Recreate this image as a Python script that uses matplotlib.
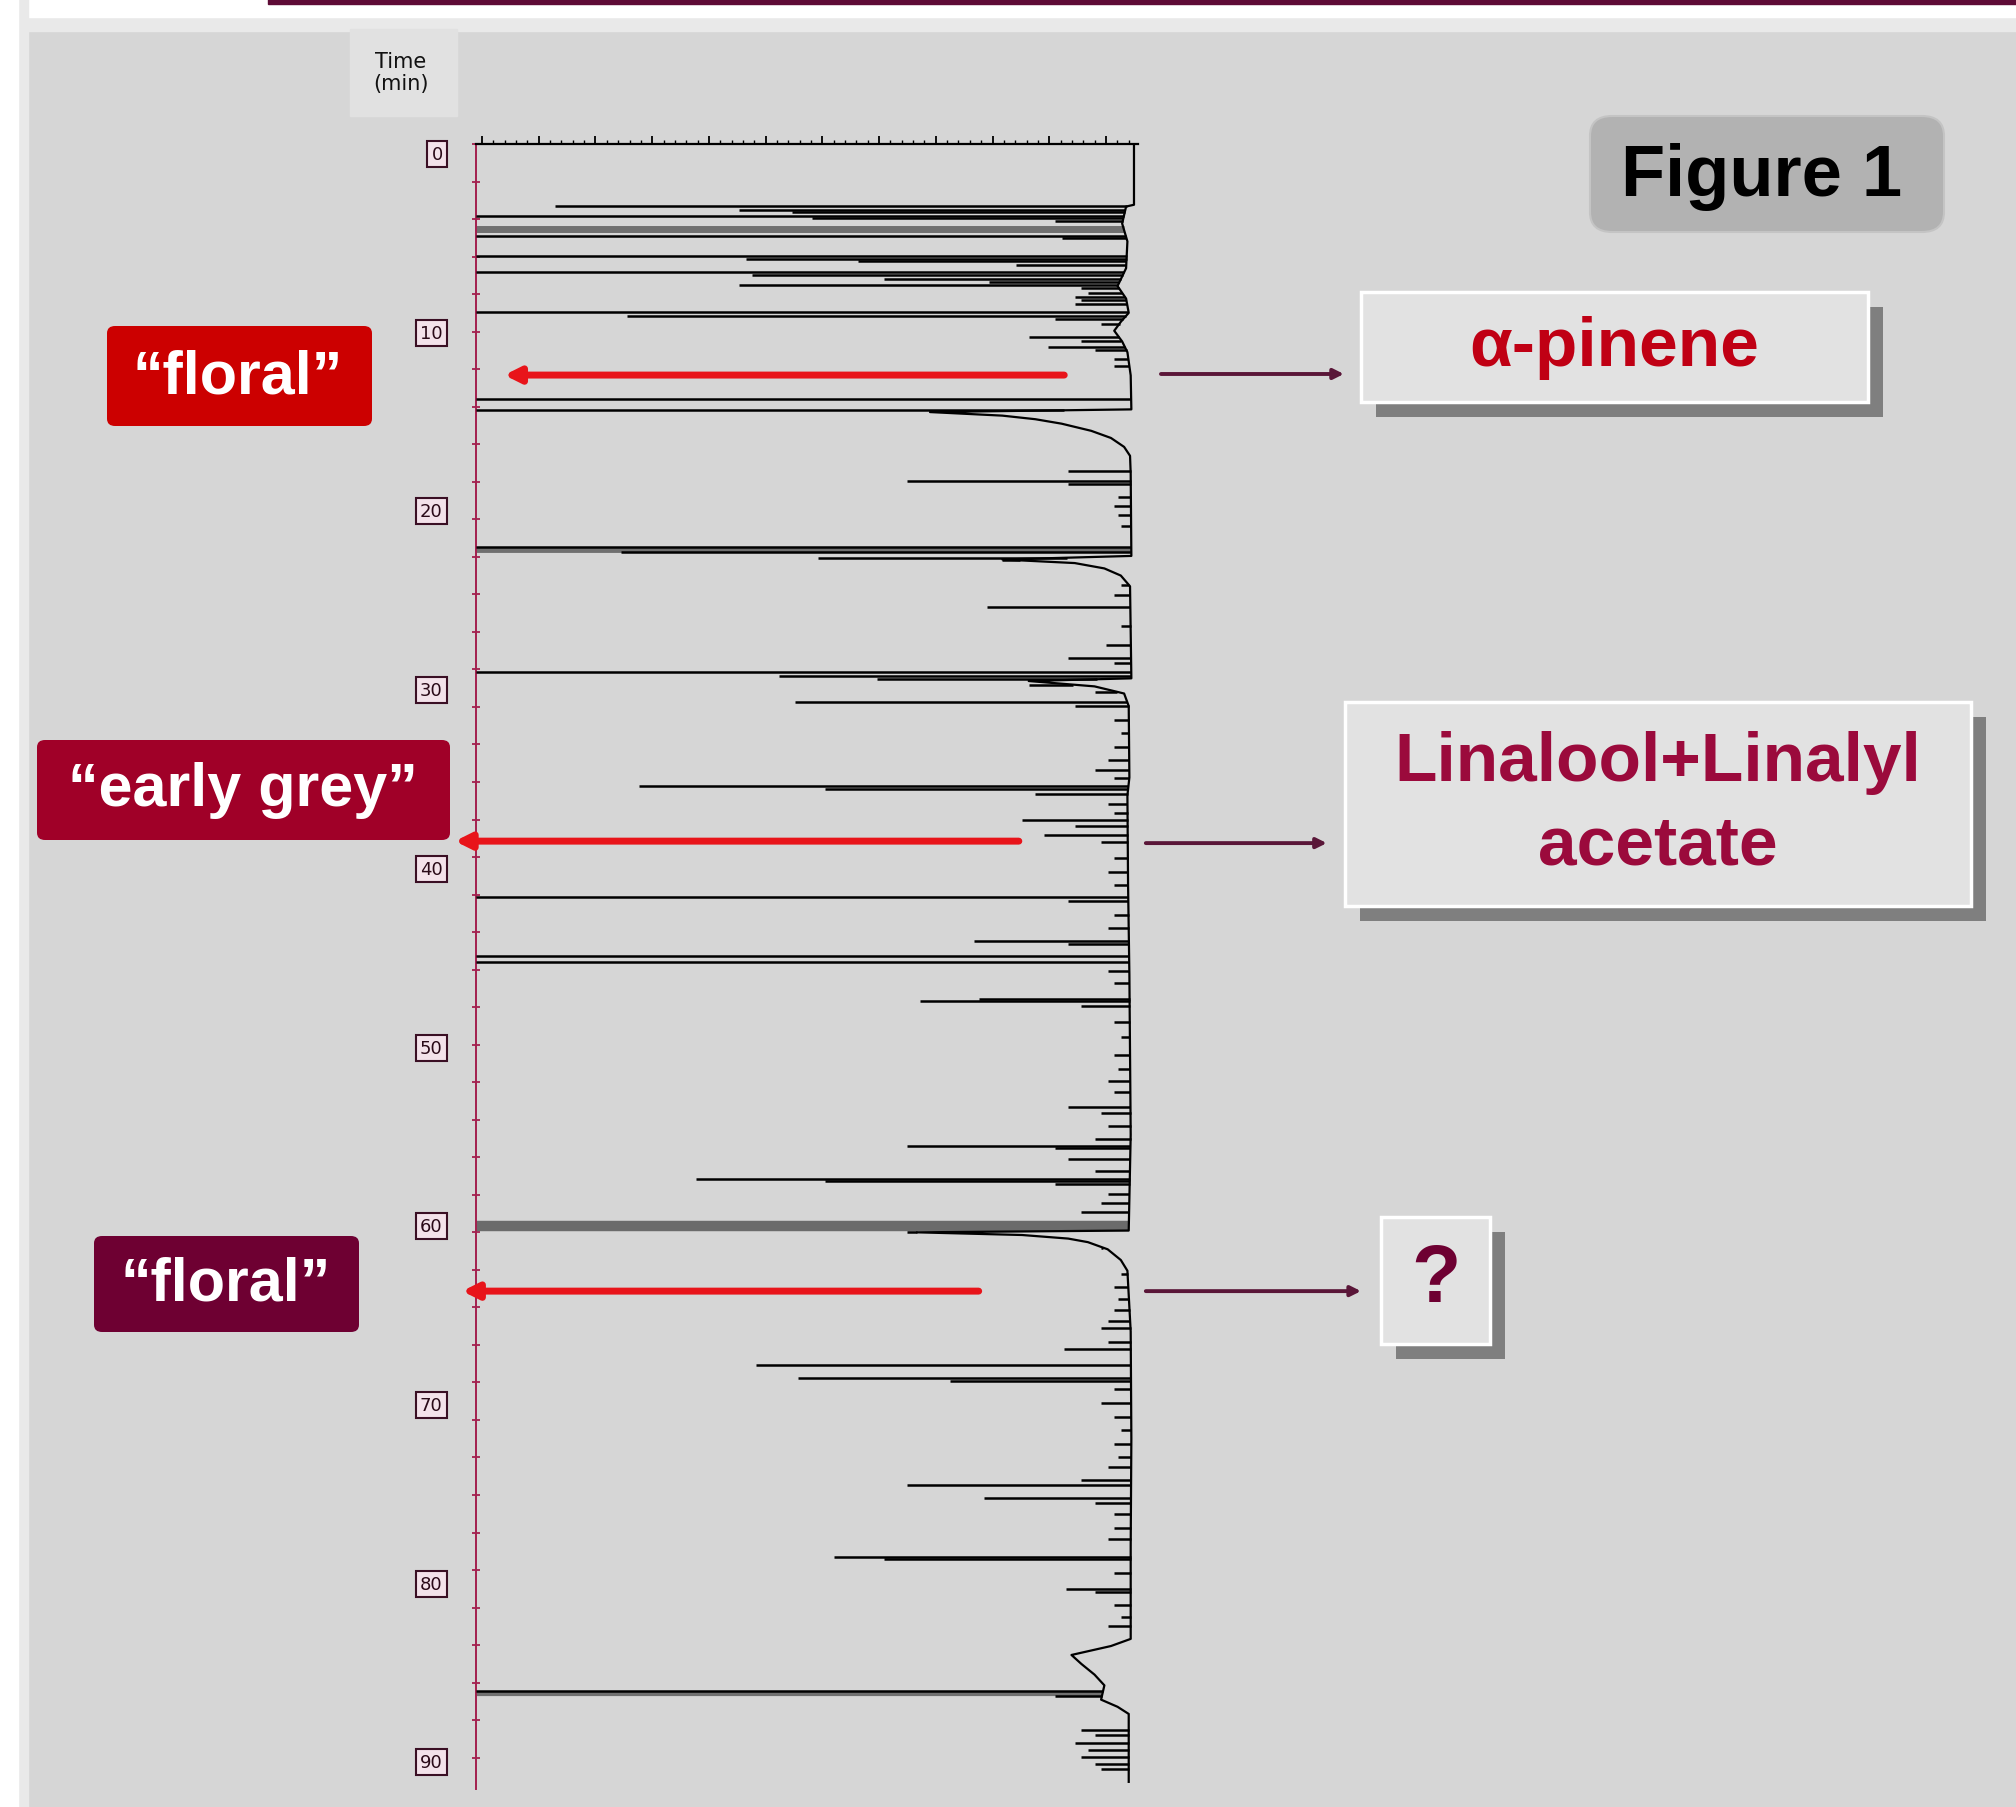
import numpy as np
import matplotlib.pyplot as plt
from matplotlib.patches import Rectangle, FancyBboxPatch

# chromatogram: retention time (min) and peak height (% of full scale)
peak_time = [3.04, 3.25, 3.35, 3.56, 3.71, 3.85, 4.68, 4.80, 5.80, 5.99, 6.10, 6.30,
             6.73, 6.90, 7.10, 7.30, 7.42, 7.60, 7.90, 8.10, 8.30, 8.50, 8.93, 9.15,
             9.35, 9.60, 10.37, 10.55, 10.93, 11.10, 11.60, 12.00, 13.82, 14.45,
             17.83, 18.39, 18.60, 19.30, 19.80, 20.30, 20.90, 22.12, 22.40, 22.70, 22.85,
             24.20, 24.80, 25.48, 26.50, 27.60, 28.30, 28.60, 29.10, 29.30, 29.50, 29.80,
             30.20, 30.80, 31.00, 31.80, 32.50, 33.30, 34.00, 34.60, 35.00, 35.50, 35.65,
             35.90, 36.50, 37.00, 37.40, 37.70, 38.20, 38.60, 39.50, 40.30, 41.00, 41.70,
             41.90, 42.70, 43.40, 44.13, 44.30, 45.00, 45.30, 45.80, 46.50, 47.40, 47.50,
             47.80, 48.70, 49.50, 50.50, 51.30, 52.00, 52.60, 53.46, 53.80, 54.50, 55.20,
             55.60, 55.75, 56.35, 57.00, 57.47, 57.60, 57.75, 58.30, 58.80, 59.30, 60.45,
             61.30, 62.80, 63.50, 64.20, 64.80, 65.40, 65.80, 66.60, 67.00, 67.90, 68.60,
             68.75, 69.20, 70.00, 70.80, 71.50, 72.30, 73.00, 73.60, 74.30, 74.60, 75.30,
             75.60, 76.20, 77.00, 77.60, 78.60, 78.75, 79.50, 80.40, 80.60, 81.30, 82.00,
             82.50, 86.10, 86.40, 88.30, 88.60, 89.00, 89.40, 89.80, 90.20, 90.50]
peak_height = [88, 60, 52, 100, 49, 12, 100, 11, 100, 59, 42, 18,
               100, 58, 38, 22, 60, 8, 7, 9, 8, 9, 100, 77,
               12, 5, 16, 8, 13, 6, 3, 3, 100, 100,
               10, 34.5, 10, 2.5, 3, 2.5, 2, 100, 78, 48, 20,
               2, 3, 22.3, 2, 4.3, 10, 3, 100, 54, 39, 16,
               6, 51.5, 9, 3, 2, 3, 4, 6, 3, 75.2, 47,
               15, 4, 3, 17, 9, 13.7, 5, 3, 4, 3, 100,
               10, 3, 4, 24.3, 10, 100, 100, 4, 3, 23.5, 32.5,
               8, 3, 2, 3, 2.5, 4, 3, 10, 5, 4, 6,
               34.5, 12, 10, 6, 66.6, 47, 12, 4, 5, 8, 34.5,
               5, 2, 3, 2.5, 3, 4, 5, 4, 10.6, 57.5, 51.1,
               28, 3, 5, 3, 2, 3, 2.5, 4, 8, 34.5, 22.8,
               6, 3, 3, 4, 45.6, 38, 3, 10.3, 6, 3, 2,
               4, 100, 12, 8, 6, 9, 7, 8, 6, 5]

# overloaded peaks that print as grey bands
band_time = [4.3, 22.25, 60.1, 86.3]
band_height = [100, 100, 100, 100]

# baseline drift and peak tailing of the trace
base_time = [-0.45, 2.95, 3.05, 4.0, 5.0, 6.5, 7.5, 8.2, 9.0, 9.5, 10.0, 10.6, 11.2,
             12.5, 14.4, 14.55, 14.75, 14.95, 15.2, 15.6, 16.0, 16.5, 17.0, 18.0, 22.6,
             22.8, 23.0, 23.3, 23.7, 24.3, 29.45, 29.6, 29.9, 30.3, 31.0, 35.0, 36.0,
             41.0, 46.0, 55.0, 60.35, 60.45, 60.6, 60.8, 61.0, 61.4, 62.0, 62.6, 66.0,
             72.0, 78.0, 83.2, 83.6, 84.1, 84.6, 85.2, 85.8, 86.6, 87.0, 87.4, 91.2]
base_level = [0, 0, 1.2, 1.8, 1.0, 1.2, 2.5, 1.2, 0.8, 2.0, 3.0, 1.8, 1.0,
              0.5, 0.4, 31, 20, 15, 11, 6.5, 3.5, 1.5, 0.6, 0.5, 0.4,
              20, 9, 4.5, 2, 0.6, 0.4, 16, 6, 1.5, 0.8, 0.7, 1.0,
              0.9, 0.7, 0.5, 0.8, 33, 17, 10, 7, 4, 2, 1, 0.5,
              0.4, 0.5, 0.5, 3.5, 9.5, 8, 6, 4.5, 5, 2.5, 0.8, 0.8]

time_ticks = [0, 10, 20, 30, 40, 50, 60, 70, 80, 90]

# odour notes at the sniffing port (red arrows) and identified compounds
odour_labels = ["\u201cfloral\u201d", "\u201cearly grey\u201d", "\u201cfloral\u201d"]
odour_time = [12.48, 38.56, 63.74]
odour_from = [10.6, 17.5, 23.6]
odour_to = [95.7, 103.2, 102.1]
compound_labels = ["\u03b1-pinene", "Linalool+Linalyl\nacetate", "?"]

W, H = 2016, 1808
fig = plt.figure(figsize=(W / 100, H / 100), dpi=100, facecolor="#d6d6d6")


def fr(x0, y0, x1, y1):
    return (x0 / W, 1 - y1 / H, (x1 - x0) / W, (y1 - y0) / H)


# slide frame
fig.add_artist(Rectangle((0, 1 - 32 / H), 1, 32 / H, transform=fig.transFigure, color="#e9e9e9", zorder=0))
fig.add_artist(Rectangle((0, 1 - 18 / H), 1, 18 / H, transform=fig.transFigure, color="white", zorder=0))
fig.add_artist(Rectangle((0, 0), 28 / W, 1, transform=fig.transFigure, color="#e9e9e9", zorder=0))
fig.add_artist(Rectangle((0, 0), 18 / W, 1, transform=fig.transFigure, color="white", zorder=0))
fig.add_artist(Rectangle((268 / W, 1 - 5 / H), 1, 5 / H, transform=fig.transFigure, color="#5e0b36", zorder=1))

ax = fig.add_axes(fr(476, 145, 1138, 1790))
ax.set_facecolor("none")
ax.set_xlim(100, -0.61)
ax.set_ylim(91.6, -0.45)

# trace: each peak rises from the local baseline
peak_base = np.interp(peak_time, base_time, base_level)
band_base = np.interp(band_time, base_time, base_level)
ax.plot(base_level, base_time, color="black", lw=1.6, zorder=3)
band_styles = [("#707070", 5), ("#707070", 3.5), ("#6b6b6b", 7.5), ("#707070", 3)]
for t, b, h, (c, w) in zip(band_time, band_base, band_height, band_styles):
    ax.hlines(t, b, h, color=c, lw=w, zorder=2)
ax.hlines(peak_time, peak_base, peak_height, color="black", lw=1.8, zorder=3)

# axes styling
for side in ["right", "bottom"]:
    ax.spines[side].set_visible(False)
ax.spines["left"].set_color("#a3204e")
ax.spines["left"].set_linewidth(1.4)
ax.spines["top"].set_color("black")
ax.spines["top"].set_linewidth(1.6)

ax.xaxis.set_ticks_position("top")
step = 8.62
ax.set_xticks(np.arange(4.26, 100, step))
ax.set_xticks(np.arange(4.26 - step, 100, step / 5), minor=True)
ax.set_xlim(100, -0.61)
ax.tick_params(axis="x", which="major", direction="out", length=6, width=1.3, color="black", labeltop=False)
ax.tick_params(axis="x", which="minor", direction="out", length=3, width=1.0, color="black")

ax.set_yticks(time_ticks)
ax.set_yticklabels([str(v) for v in time_ticks])
ax.set_yticks(np.arange(-0.45, 91.6, 2.1), minor=True)
ax.set_ylim(91.6, -0.45)
ax.tick_params(axis="y", which="major", length=0, pad=24, labelsize=13, labelcolor="#2a0a18")
ax.tick_params(axis="y", which="minor", direction="inout", length=6, width=1.3, color="#a3204e")
for lab in ax.get_yticklabels():
    lab.set_family("DejaVu Sans")
    lab.set_bbox(dict(boxstyle="square,pad=0.22", fc="#f3e2ea", ec="#3a0f24", lw=1.5))

# time label
fig.add_artist(Rectangle((350 / W, 1 - 117 / H), 107 / W, 87 / H, transform=fig.transFigure,
                         color="#e1e1e1", zorder=1))
fig.text(401 / W, 1 - 73 / H, "Time\n(min)", ha="center", va="center", fontsize=15,
         family="DejaVu Sans", linespacing=1.15, color="#111111")

# red arrows from the trace to the odour notes
for t, a, b in zip(odour_time, odour_from, odour_to):
    ax.annotate("", xy=(b, t), xytext=(a, t), annotation_clip=False,
                arrowprops=dict(arrowstyle="-|>,head_length=0.9,head_width=0.45",
                                color="#e8141a", lw=5, shrinkA=0, shrinkB=0))

# dark arrows to the compound boxes
right_from = [-4.1, -1.8, -1.8]
right_to = [-31.9, -29.3, -34.5]
right_time = [12.42, 38.67, 63.74]
for t, a, b in zip(right_time, right_from, right_to):
    ax.annotate("", xy=(b, t), xytext=(a, t), annotation_clip=False,
                arrowprops=dict(arrowstyle="-|>,head_length=0.6,head_width=0.3",
                                color="#5a1638", lw=2.8, shrinkA=0, shrinkB=0))

# odour boxes on the left
odour_boxes = [(107, 327, 372, 427, "#cc0000", 238, 378),
               (37, 741, 450, 841, "#a00028", 243, 791),
               (94, 1237, 359, 1333, "#6e0032", 226, 1285)]
for lab, (x0, y0, x1, y1, c, tx, ty) in zip(odour_labels, odour_boxes):
    fig.add_artist(FancyBboxPatch(fr(x0, y0, x1, y1)[:2], (x1 - x0) / W, (y1 - y0) / H,
                                  boxstyle="round,pad=0,rounding_size=0.004",
                                  transform=fig.transFigure, fc=c, ec="none", zorder=2))
    fig.text(tx / W, 1 - ty / H, lab, ha="center", va="center", fontsize=44,
             family="Liberation Sans", weight="bold", color="white", zorder=3)

# Figure 1 badge
fig.add_artist(FancyBboxPatch(fr(1590, 117, 1944, 233)[:2], 354 / W, 116 / H,
                              boxstyle="round,pad=0,rounding_size=0.011",
                              transform=fig.transFigure, fc="#b2b2b2", ec="#c4c4c4", lw=1.5, zorder=2))
fig.text(1762 / W, 1 - 177 / H, "Figure 1", ha="center", va="center", fontsize=52,
         family="Liberation Sans", weight="bold", color="black", zorder=3)

# compound boxes with shadows
compound_boxes = [(1361, 293, 1868, 403, "#c00014", 50, 1.0),
                  (1345, 703, 1971, 907, "#9b0a3c", 50, 1.4),
                  (1381, 1218, 1490, 1345, "#6e0032", 58, 1.0)]
for lab, (x0, y0, x1, y1, c, fs, ls) in zip(compound_labels, compound_boxes):
    fig.add_artist(Rectangle(fr(x0 + 15, y0 + 15, x1 + 15, y1 + 15)[:2], (x1 - x0) / W, (y1 - y0) / H,
                             transform=fig.transFigure, fc="#7f7f7f", ec="none", zorder=2))
    fig.add_artist(Rectangle(fr(x0, y0, x1, y1)[:2], (x1 - x0) / W, (y1 - y0) / H,
                             transform=fig.transFigure, fc="#e2e2e2", ec="white", lw=2.5, zorder=3))
    fig.text((x0 + x1) / 2 / W, 1 - (y0 + y1) / 2 / H, lab, ha="center", va="center",
             fontsize=fs, family="Liberation Sans", weight="bold", color=c,
             linespacing=ls, zorder=4)

fig.savefig("out.png", dpi=100, facecolor=fig.get_facecolor())
